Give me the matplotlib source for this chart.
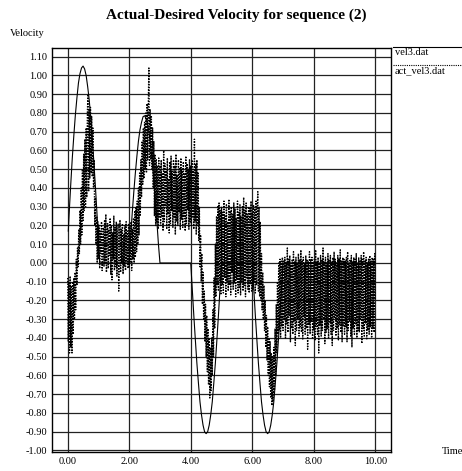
import matplotlib
matplotlib.use("Agg")
import matplotlib.pyplot as plt
from matplotlib.lines import Line2D
import numpy as np

plt.rcParams['font.family'] = ['Liberation Serif', 'DejaVu Serif']

title = "Actual-Desired Velocity for sequence (2)"
x_label = "Time"
y_label = "Velocity"
series_labels = ["vel3.dat", "act_vel3.dat"]

x_ticks = [0.0, 2.0, 4.0, 6.0, 8.0, 10.0]
y_ticks = [-1.0, -0.9, -0.8, -0.7, -0.6, -0.5, -0.4, -0.3, -0.2, -0.1, 0.0,
           0.1, 0.2, 0.3, 0.4, 0.5, 0.6, 0.7, 0.8, 0.9, 1.0, 1.1]

# desired velocity (vel3.dat): breakpoints of the commanded profile
des_time = [0.02, 0.05, 0.10, 0.15, 0.20, 0.25, 0.30, 0.35, 0.40, 0.45, 0.50,
            0.55, 0.60, 0.65, 0.70, 0.75, 0.80, 0.85, 0.90, 0.95, 1.00, 1.04,
            2.00, 2.05, 2.10, 2.15, 2.20, 2.25, 2.30, 2.35, 2.40, 2.45, 2.50,
            2.55, 2.60, 2.65, 2.70, 2.75, 2.80, 2.85, 2.90, 2.95, 3.00,
            4.00, 4.05, 4.10, 4.15, 4.20, 4.25, 4.30, 4.35, 4.40, 4.45, 4.50,
            4.55, 4.60, 4.65, 4.70, 4.75, 4.80, 4.85, 4.90, 4.95, 5.00,
            6.00, 6.05, 6.10, 6.15, 6.20, 6.25, 6.30, 6.35, 6.40, 6.45, 6.50,
            6.55, 6.60, 6.65, 6.70, 6.75, 6.80, 6.85, 6.90, 6.95, 7.00,
            10.00]
des_vel = [0.17, 0.27, 0.42, 0.56, 0.68, 0.79, 0.88, 0.96, 1.01, 1.04, 1.05,
           1.035, 1.00, 0.94, 0.87, 0.77, 0.66, 0.54, 0.41, 0.27, 0.12, 0.00,
           0.00, 0.15, 0.27, 0.38, 0.48, 0.57, 0.65, 0.71, 0.75, 0.78, 0.785,
           0.77, 0.74, 0.69, 0.62, 0.54, 0.44, 0.33, 0.22, 0.10, 0.00,
           0.00, -0.14, -0.28, -0.41, -0.535, -0.64, -0.74, -0.81, -0.865, -0.90, -0.91,
           -0.90, -0.865, -0.81, -0.74, -0.64, -0.535, -0.41, -0.28, -0.14, 0.00,
           0.00, -0.14, -0.28, -0.41, -0.535, -0.64, -0.74, -0.81, -0.865, -0.90, -0.91,
           -0.90, -0.865, -0.81, -0.74, -0.64, -0.535, -0.41, -0.28, -0.14, 0.00,
           0.00]

# measured velocity (act_vel3.dat), sampled every 0.02 s from t = 0
act_dt = 0.02
act_vel = [
    # 0.00 - 0.98
    -0.08, -0.42, -0.10, -0.48, -0.07, -0.45, -0.12, -0.48, -0.10, -0.38,
    -0.08, -0.30, -0.05, -0.25, 0.02, -0.12, 0.08, -0.02, 0.18, 0.05,
    0.28, 0.10, 0.40, 0.15, 0.50, 0.22, 0.58, 0.28, 0.66, 0.30,
    0.72, 0.35, 0.80, 0.90, 0.38, 0.82, 0.45, 0.83, 0.48, 0.78,
    0.46, 0.72, 0.40, 0.55, 0.20, 0.35, 0.10, 0.25, 0.00, 0.22,
    # 1.00 - 1.98
    0.02, 0.20, -0.03, 0.17, 0.05, 0.22, -0.04, 0.12, 0.19, -0.02,
    0.23, 0.00, 0.26, -0.05, 0.15, 0.21, -0.03, 0.18, 0.04, 0.24,
    -0.06, 0.20, -0.09, 0.16, 0.02, 0.25, -0.04, 0.19, -0.02, 0.22,
    -0.07, 0.14, 0.21, -0.15, 0.10, 0.23, -0.05, 0.18, 0.00, 0.21,
    -0.06, 0.15, -0.02, 0.20, -0.04, 0.22, 0.01, 0.17, -0.03, 0.21,
    # 2.00 - 2.98
    -0.02, 0.20, 0.00, 0.22, -0.04, 0.18, 0.02, 0.24, 0.00, 0.28,
    0.03, 0.30, 0.06, 0.33, 0.10, 0.40, 0.15, 0.48, 0.25, 0.55,
    0.35, 0.65, 0.42, 0.72, 0.45, 0.75, 0.50, 0.80, 0.48, 0.85,
    0.55, 0.84, 1.04, 0.52, 0.82, 0.55, 0.78, 0.50, 0.72, 0.40,
    0.65, 0.25, 0.58, 0.20, 0.55, 0.22, 0.52, 0.18, 0.56, 0.24,
    # 3.00 - 3.98
    0.52, 0.20, 0.55, 0.25, 0.48, 0.17, 0.60, 0.22, 0.53, 0.30,
    0.50, 0.18, 0.56, 0.26, 0.45, 0.16, 0.54, 0.21, 0.57, 0.28,
    0.49, 0.19, 0.55, 0.24, 0.52, 0.15, 0.58, 0.22, 0.47, 0.20,
    0.55, 0.27, 0.51, 0.18, 0.56, 0.23, 0.50, 0.19, 0.54, 0.25,
    0.48, 0.17, 0.57, 0.21, 0.53, 0.28, 0.50, 0.18, 0.55, 0.22,
    # 4.00 - 4.98
    0.52, 0.20, 0.55, 0.24, 0.50, 0.18, 0.66, 0.22, 0.53, 0.15,
    0.55, 0.20, 0.48, 0.12, 0.30, -0.02, 0.15, -0.10, 0.05, -0.22,
    -0.05, -0.30, -0.15, -0.42, -0.22, -0.50, -0.28, -0.58, -0.35, -0.65,
    -0.40, -0.72, -0.45, -0.68, -0.40, -0.60, -0.25, -0.50, -0.08, -0.35,
    0.10, -0.18, 0.25, -0.12, 0.30, -0.15, 0.32, -0.10, 0.28, -0.17,
    # 5.00 - 5.98
    0.30, -0.12, 0.27, -0.16, 0.33, -0.08, 0.25, -0.18, 0.31, -0.10,
    0.22, -0.15, 0.34, -0.12, 0.28, -0.17, 0.30, -0.05, 0.26, -0.14,
    0.32, -0.11, 0.29, -0.18, 0.24, -0.09, 0.33, -0.16, 0.27, -0.13,
    0.31, -0.17, 0.25, -0.10, 0.30, -0.15, 0.35, -0.12, 0.28, -0.18,
    0.32, -0.08, 0.26, -0.14, 0.30, -0.16, 0.29, -0.11, 0.33, -0.15,
    # 6.00 - 6.98
    0.27, -0.14, 0.31, -0.10, 0.29, -0.16, 0.33, -0.12, 0.28, 0.38,
    -0.15, 0.30, -0.18, 0.22, -0.20, 0.05, -0.25, -0.05, -0.30, -0.12,
    -0.36, -0.20, -0.45, -0.28, -0.52, -0.34, -0.60, -0.40, -0.66, -0.42,
    -0.72, -0.48, -0.76, -0.50, -0.74, -0.45, -0.68, -0.35, -0.60, -0.22,
    -0.48, -0.10, -0.38, 0.00, -0.36, 0.02, -0.40, 0.01, -0.34, 0.03,
    # 7.00 - 7.98
    -0.36, 0.01, -0.30, 0.03, -0.40, 0.00, -0.33, 0.08, -0.37, 0.02,
    -0.28, 0.04, -0.42, -0.01, -0.35, 0.02, -0.38, 0.06, -0.31, 0.01,
    -0.44, 0.03, -0.36, 0.00, -0.30, 0.05, -0.39, 0.02, -0.34, 0.07,
    -0.37, 0.01, -0.41, 0.03, -0.29, 0.00, -0.38, 0.04, -0.35, 0.02,
    -0.46, 0.01, -0.33, 0.06, -0.38, 0.02, -0.31, 0.03, -0.40, 0.00,
    # 8.00 - 8.98
    -0.36, 0.02, -0.41, 0.07, -0.34, 0.01, -0.38, 0.03, -0.48, 0.00,
    -0.33, 0.04, -0.39, 0.02, -0.36, 0.08, -0.30, 0.01, -0.43, 0.03,
    -0.37, 0.00, -0.35, 0.05, -0.40, 0.02, -0.32, 0.04, -0.38, 0.01,
    -0.44, 0.03, -0.36, 0.06, -0.29, 0.02, -0.39, 0.00, -0.35, 0.04,
    -0.41, 0.02, -0.33, 0.07, -0.37, 0.01, -0.42, 0.03, -0.34, 0.02,
    # 9.00 - 10.00
    -0.38, 0.01, -0.34, 0.03, -0.42, 0.06, -0.36, 0.00, -0.31, 0.02,
    -0.39, 0.04, -0.45, 0.01, -0.35, 0.03, -0.38, 0.02, -0.33, 0.05,
    -0.40, 0.00, -0.36, 0.03, -0.37, 0.01, -0.30, 0.04, -0.43, 0.02,
    -0.35, 0.06, -0.39, 0.01, -0.32, 0.03, -0.41, 0.00, -0.36, 0.02,
    -0.38, 0.04, -0.34, 0.01, -0.40, 0.03, -0.35, 0.02, -0.37, 0.05,
    -0.20,
]
act_time = np.arange(len(act_vel)) * act_dt

W, H = 462, 471
fig = plt.figure(figsize=(W / 100, H / 100), dpi=100)
fig.patch.set_facecolor('white')

left, right, top, bottom = 52.3, 390.7, 47.7, 452.0
ax = fig.add_axes([left / W, 1 - bottom / H, (right - left) / W, (bottom - top) / H])

ax.plot(des_time, des_vel, color='black', lw=0.8, zorder=3)
ax.plot(act_time, act_vel, color='black', lw=1.0, linestyle=(0, (1, 1)), zorder=4)

ax.set_xlim(-0.5, 10.5)
ax.set_ylim(-1.008, 1.148)
ax.set_xticks(x_ticks)
ax.set_xticklabels([f"{v:.2f}" for v in x_ticks])
ax.set_yticks(y_ticks)
ax.set_yticklabels([f"{v:.2f}" for v in y_ticks])
ax.tick_params(length=0, labelsize=7.5, pad=3.5)
ax.grid(True, color='#222222', lw=0.9, zorder=1)
for s in ax.spines.values():
    s.set_linewidth(1.0)
    s.set_color('black')

fig.text(236.5 / W, 1 - 15 / H, title, ha='center', va='center',
         fontsize=11, fontweight='bold')
fig.text(10 / W, 1 - 33 / H, y_label, ha='left', va='center', fontsize=7.5)
fig.text(442.0 / W, 1 - 451 / H, x_label, ha='left', va='center', fontsize=7.5)

# key drawn outside the axes on the right: a line sample above each name
key_styles = ['-', (0, (1, 1))]
key_line_y = [46.7, 64.5]
for lab, ls, ly in zip(series_labels, key_styles, key_line_y):
    fig.add_artist(Line2D([393 / W, 1.0], [1 - ly / H, 1 - ly / H],
                          color='black', lw=0.8, linestyle=ls,
                          transform=fig.transFigure))
    fig.text(395 / W, 1 - (ly + 6.0) / H, lab, ha='left', va='center', fontsize=7.5)

fig.savefig("out.png", dpi=100, facecolor='white')
